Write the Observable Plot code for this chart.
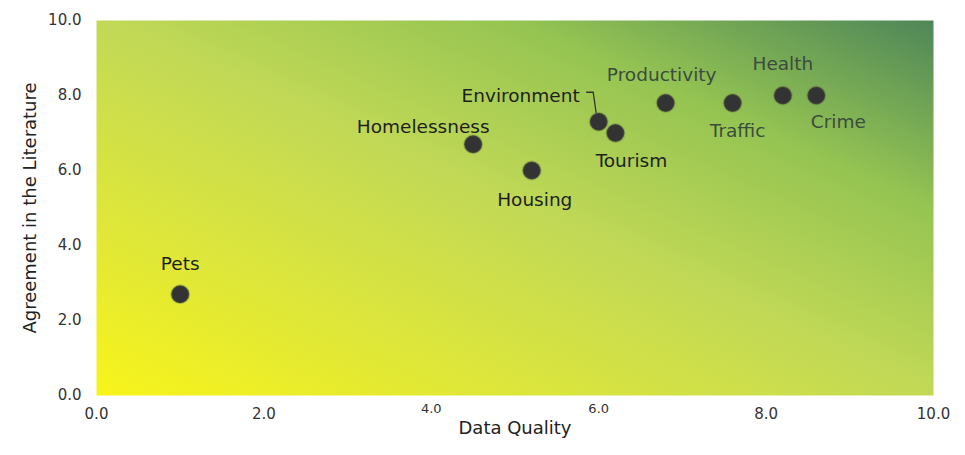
<!DOCTYPE html>
<html>
<head>
<meta charset="utf-8">
<script src="https://cdn.jsdelivr.net/npm/d3@7"></script>
<script src="https://cdn.jsdelivr.net/npm/@observablehq/plot@0.6"></script>
<style>
  html, body { margin: 0; padding: 0; background: #ffffff; }
  #chart { width: 965px; height: 455px; }
  svg { font-family: "DejaVu Sans", sans-serif; }
</style>
</head>
<body>
<div id="chart"></div>
<script>
// ---- data ----
const topics = ["Pets", "Homelessness", "Housing", "Environment", "Tourism", "Productivity", "Traffic", "Health", "Crime"];
const dataQuality = [1.0, 4.5, 5.2, 6.0, 6.2, 6.8, 7.6, 8.2, 8.6];
const agreement   = [2.7, 6.7, 6.0, 7.3, 7.0, 7.8, 7.8, 8.0, 8.0];
const axisTicks = [0, 2, 4, 6, 8, 10];

const points = topics.map((t, i) => ({topic: t, x: dataQuality[i], y: agreement[i]}));

// label placement (styling only)
const place = {
  Pets:         {dx: 0,   dy: -30, anchor: "middle", color: "#1e1e1e"},
  Homelessness: {dx: -50, dy: -17, anchor: "middle", color: "#1e1e1e"},
  Housing:      {dx: 3,   dy: 30,  anchor: "middle", color: "#1e1e1e"},
  Environment:  {dx: -19, dy: -26, anchor: "end",    color: "#1e1e1e"},
  Tourism:      {dx: 16,  dy: 28,  anchor: "middle", color: "#1e1e1e"},
  Productivity: {dx: -4,  dy: -28, anchor: "middle", color: "#3b4c3e"},
  Traffic:      {dx: 5,   dy: 28,  anchor: "middle", color: "#3b4c3e"},
  Health:       {dx: 0,   dy: -31, anchor: "middle", color: "#3b4c3e"},
  Crime:        {dx: 22,  dy: 27,  anchor: "middle", color: "#3b4c3e"}
};

const fmt = d => d.toFixed(1);
const labelMarks = points.map(p => {
  const s = place[p.topic];
  return Plot.text([p], {x: "x", y: "y", text: "topic", dx: s.dx, dy: s.dy,
    textAnchor: s.anchor, fill: s.color, fontSize: 18.5});
});

// leader line for Environment label
const envIdx = topics.indexOf("Environment");
const leader = (index, scales) => {
  const px = scales.x(dataQuality[envIdx]), py = scales.y(agreement[envIdx]);
  const g = d3.create("svg:path")
    .attr("d", `M${px - 12},${py - 29}H${px - 5}L${px - 2},${py - 8}`)
    .attr("fill", "none").attr("stroke", "#333").attr("stroke-width", 1.3);
  return g.node();
};

const chart = Plot.plot({
  width: 965,
  height: 455,
  marginLeft: 96,
  marginRight: 32,
  marginTop: 20,
  marginBottom: 60,
  x: {domain: [0, 10]},
  y: {domain: [0, 10]},
  style: {fontFamily: "DejaVu Sans, sans-serif", background: "#ffffff"},
  marks: [
    Plot.frame({fill: "url(#bggrad)", stroke: "none"}),
    Plot.axisY({ticks: axisTicks, tickFormat: fmt, tickSize: 0, tickPadding: 15,
      fontSize: 15, color: "#333", label: null}),
    Plot.axisX({ticks: axisTicks.filter(t => t !== 4 && t !== 6), tickFormat: fmt,
      tickSize: 0, tickPadding: 13, fontSize: 15, color: "#333", label: null}),
    Plot.text(axisTicks.filter(t => t === 4 || t === 6), {x: d => d, text: fmt,
      frameAnchor: "bottom", dy: 17, fontSize: 13, fill: "#333"}),
    Plot.text(["Data Quality"], {frameAnchor: "bottom", dy: 38, fontSize: 18, fill: "#222"}),
    Plot.text(["Agreement in the Literature"], {frameAnchor: "left", textAnchor: "middle",
      dx: -66, rotate: -90, fontSize: 18, fill: "#222"}),
    leader,
    Plot.dot(points, {x: "x", y: "y", r: 9, fill: "#333", stroke: "#6e7a48", strokeOpacity: 0.35, strokeWidth: 2}),
    ...labelMarks
  ]
});

const svg = d3.select(chart);
const defs = svg.insert("defs", ":first-child");
const grad = defs.append("linearGradient").attr("id", "bggrad")
  .attr("x1", 0).attr("y1", 1).attr("x2", 1).attr("y2", 0);
[[0, "#f8f41a"], [0.25, "#dde63a"], [0.5, "#c2d956"], [0.75, "#95c452"], [1, "#4e8658"]]
  .forEach(([o, c]) => grad.append("stop").attr("offset", o).attr("stop-color", c));

document.getElementById("chart").appendChild(chart);
</script>
</body>
</html>
